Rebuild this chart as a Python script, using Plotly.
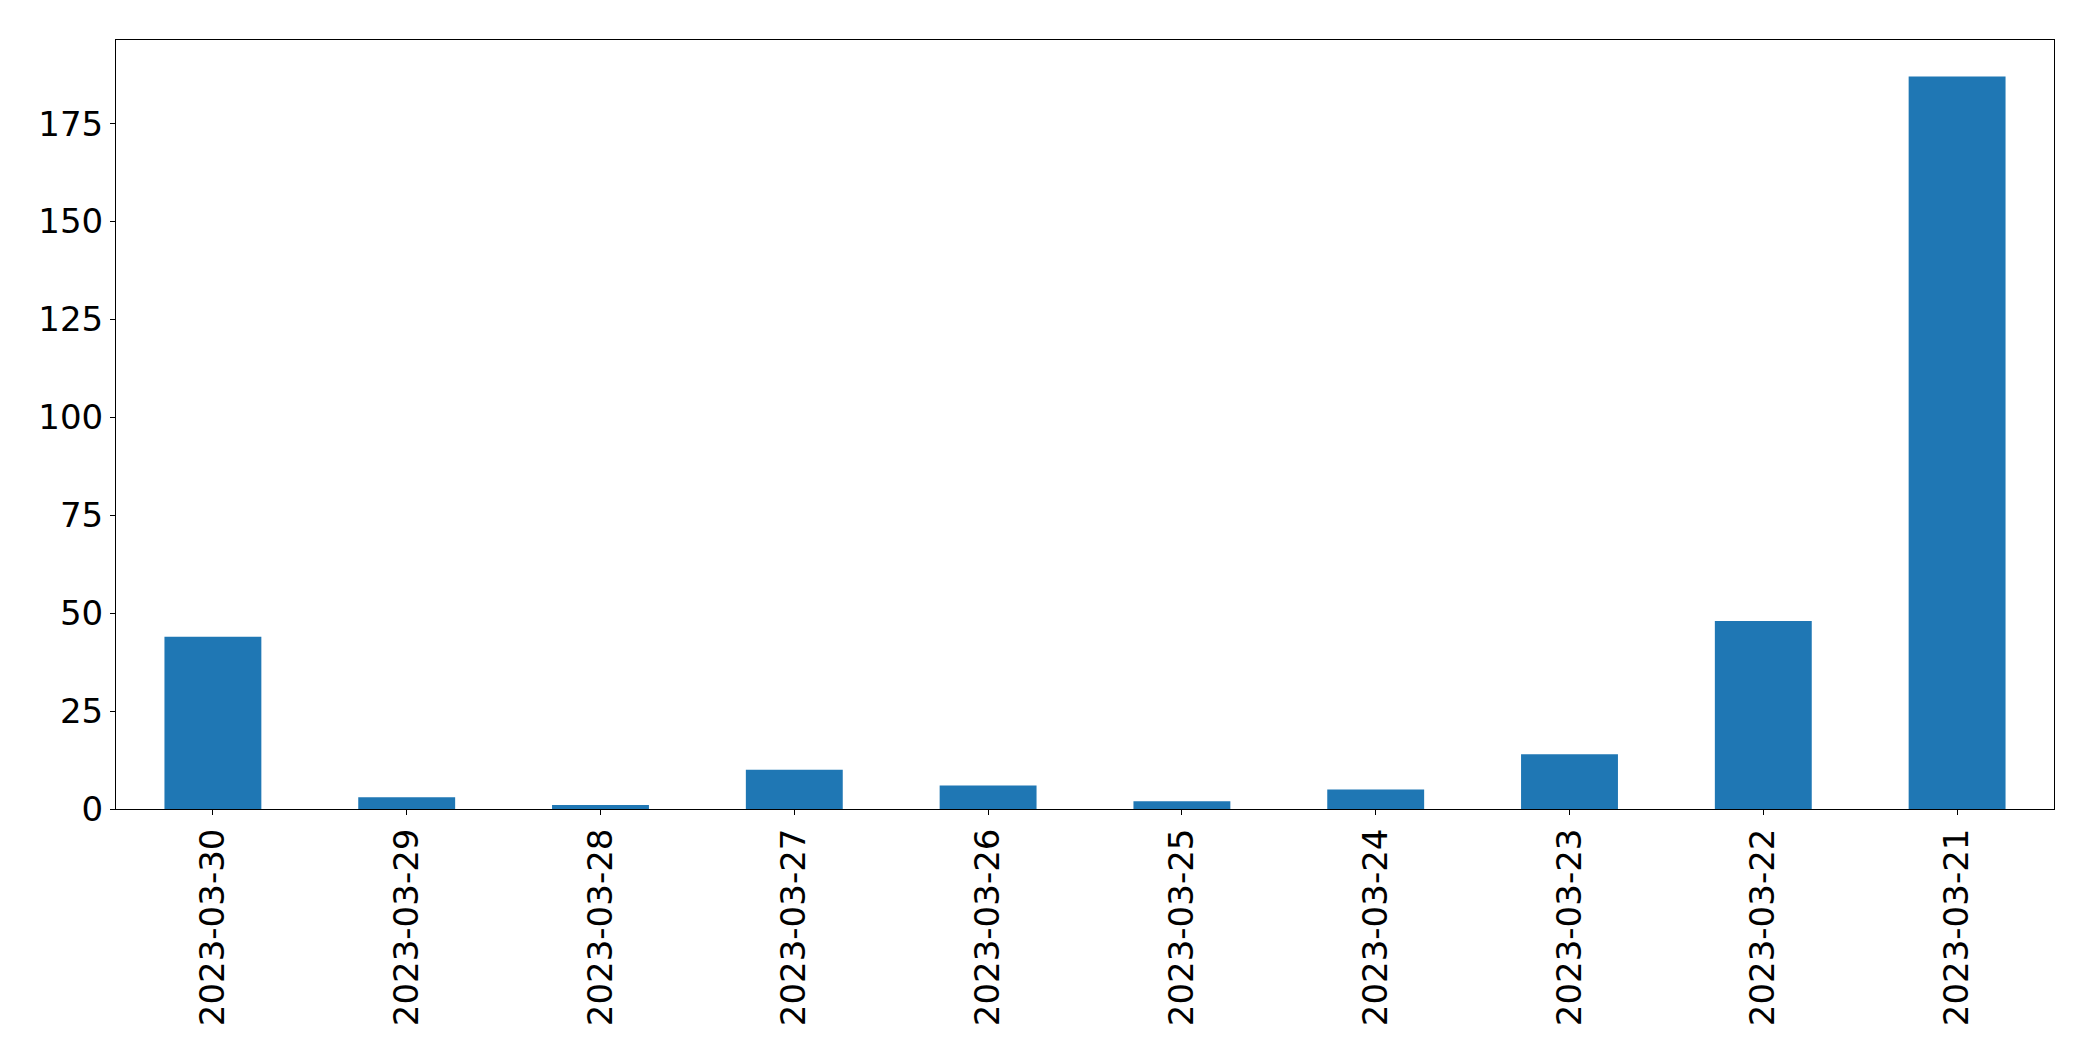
import plotly.graph_objects as go

dates = ["2023-03-30", "2023-03-29", "2023-03-28", "2023-03-27", "2023-03-26",
         "2023-03-25", "2023-03-24", "2023-03-23", "2023-03-22", "2023-03-21"]
counts = [44, 3, 1, 10, 6, 2, 5, 14, 48, 187]
y_ticks = [0, 25, 50, 75, 100, 125, 150, 175]

fig = go.Figure(go.Bar(x=dates, y=counts, marker=dict(color="#1f77b4", line=dict(width=0))))

axis_common = dict(showline=True, linecolor="black", linewidth=1, mirror=True,
                   ticks="outside", ticklen=5, tickwidth=1, tickcolor="black",
                   showgrid=False, zeroline=False,
                   tickfont=dict(family="DejaVu Sans", size=34, color="black"))

fig.update_layout(
    width=2093, height=1061,
    margin=dict(l=108, r=47, t=32, b=260),
    paper_bgcolor="white", plot_bgcolor="white",
    bargap=0.5, showlegend=False,
    xaxis=dict(type="category", tickangle=-90, range=[-0.5, len(dates) - 0.5], **axis_common),
    yaxis=dict(range=[0, max(counts) * 1.05], tickvals=y_ticks, **axis_common),
)

fig.write_html("out.html")
